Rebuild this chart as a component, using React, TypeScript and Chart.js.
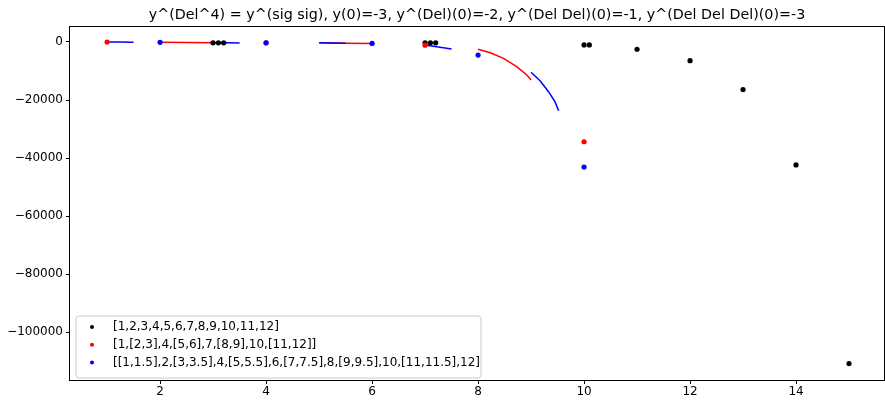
import React, { useEffect, useRef } from "react";
import { Chart, registerables } from "chart.js";

Chart.register(...registerables);

const TITLE = "y^(Del^4) = y^(sig sig), y(0)=-3, y^(Del)(0)=-2, y^(Del Del)(0)=-1, y^(Del Del Del)(0)=-3";

const LEGEND_LABELS = [
  "[1,2,3,4,5,6,7,8,9,10,11,12]",
  "[1,[2,3],4,[5,6],7,[8,9],10,[11,12]]",
  "[[1,1.5],2,[3,3.5],4,[5,5.5],6,[7,7.5],8,[9,9.5],10,[11,11.5],12]",
];

const xTicks = [2, 4, 6, 8, 10, 12, 14];
const yTicks = [0, -20000, -40000, -60000, -80000, -100000];

// black points
const blackX = [3, 3.1, 3.2, 7, 7.1, 7.2, 10, 10.1, 11, 12, 13, 14, 15];
const blackY = [-300, -300, -300, -300, -300, -300, -1000, -1000, -2500, -6450, -16400, -42400, -110900];

// red points
const redX = [1, 4, 7, 10];
const redY = [0, -300, -1100, -34400];

// blue points
const blueX = [2, 4, 6, 8, 10];
const blueY = [-100, -300, -500, -4500, -43100];

// red curves (continuous intervals)
const redSeg1X = [2, 2.5, 3];
const redSeg1Y = [-100, -150, -250];
const redSeg2X = [5, 5.5, 6];
const redSeg2Y = [-300, -400, -500];
const redSeg3X = [8, 8.23, 8.48, 8.73, 8.92, 9];
const redSeg3Y = [-2520, -3690, -5620, -8520, -11380, -13100];

// blue curves
const blueSeg1X = [1, 1.25, 1.5];
const blueSeg1Y = [-20, -40, -60];
const blueSeg2X = [3, 3.25, 3.5];
const blueSeg2Y = [-250, -300, -350];
const blueSeg3X = [5, 5.25, 5.5];
const blueSeg3Y = [-300, -350, -400];
const blueSeg4X = [7, 7.25, 7.5];
const blueSeg4Y = [-1000, -1700, -2400];
const blueSeg5X = [9, 9.17, 9.33, 9.45, 9.52];
const blueSeg5Y = [-10450, -13340, -17130, -20580, -23690];

const pts = (xs: number[], ys: number[]) => xs.map((x, i) => ({ x, y: ys[i] }));

const FONT = "'DejaVu Sans', sans-serif";

const fmt = (v: number) => (v < 0 ? "\u2212" + Math.abs(v) : String(v));

export default function App() {
  const ref = useRef<HTMLCanvasElement | null>(null);

  useEffect(() => {
    document.body.style.margin = "0";
    const canvas = ref.current;
    if (!canvas) return;

    const lineDs = (xs: number[], ys: number[], color: string, order: number) => ({
      data: pts(xs, ys),
      showLine: true,
      borderColor: color,
      backgroundColor: color,
      borderWidth: 1.5,
      pointRadius: 0,
      tension: 0,
      order,
    });
    const dotDs = (xs: number[], ys: number[], color: string, order: number) => ({
      data: pts(xs, ys),
      showLine: false,
      borderColor: color,
      backgroundColor: color,
      borderWidth: 0,
      pointRadius: 2.6,
      order,
    });

    const framePlugin = {
      id: "frameAndExtras",
      afterDraw(chart: any) {
        const { ctx, chartArea } = chart;
        const { left, right, top, bottom } = chartArea;
        ctx.save();
        ctx.strokeStyle = "#000";
        ctx.lineWidth = 1;
        ctx.strokeRect(Math.round(left) - 0.5, Math.round(top) - 0.5, Math.round(right - left) + 1, Math.round(bottom - top) + 1);

        // title
        ctx.fillStyle = "#000";
        ctx.font = `14.3px ${FONT}`;
        ctx.textAlign = "center";
        ctx.textBaseline = "alphabetic";
        ctx.fillText(TITLE, (left + right) / 2, top - 8);

        // legend
        const bx = left + 6, by = bottom - 64, bw = 405, bh = 62;
        ctx.beginPath();
        const r = 3;
        ctx.moveTo(bx + r, by);
        ctx.lineTo(bx + bw - r, by);
        ctx.quadraticCurveTo(bx + bw, by, bx + bw, by + r);
        ctx.lineTo(bx + bw, by + bh - r);
        ctx.quadraticCurveTo(bx + bw, by + bh, bx + bw - r, by + bh);
        ctx.lineTo(bx + r, by + bh);
        ctx.quadraticCurveTo(bx, by + bh, bx, by + bh - r);
        ctx.lineTo(bx, by + r);
        ctx.quadraticCurveTo(bx, by, bx + r, by);
        ctx.closePath();
        ctx.fillStyle = "rgba(255,255,255,0.8)";
        ctx.fill();
        ctx.strokeStyle = "#cccccc";
        ctx.lineWidth = 1;
        ctx.stroke();

        const colors = ["#000000", "#ff0000", "#0000ff"];
        ctx.font = `12px ${FONT}`;
        ctx.textAlign = "left";
        ctx.textBaseline = "middle";
        LEGEND_LABELS.forEach((lab, i) => {
          const yy = by + 11 + i * 17.7;
          ctx.fillStyle = colors[i];
          ctx.beginPath();
          ctx.arc(bx + 16, yy, 2, 0, Math.PI * 2);
          ctx.fill();
          ctx.fillStyle = "#000";
          ctx.fillText(lab, bx + 37, yy);
        });
        ctx.restore();
      },
    };

    const chart = new Chart(canvas, {
      type: "scatter",
      data: {
        datasets: [
          dotDs(blackX, blackY, "#000000", 3),
          dotDs(redX, redY, "#ff0000", 2),
          dotDs(blueX, blueY, "#0000ff", 1),
          lineDs(redSeg1X, redSeg1Y, "#ff0000", 10),
          lineDs(redSeg2X, redSeg2Y, "#ff0000", 10),
          lineDs(redSeg3X, redSeg3Y, "#ff0000", 10),
          lineDs(blueSeg1X, blueSeg1Y, "#0000ff", 9),
          lineDs(blueSeg2X, blueSeg2Y, "#0000ff", 9),
          lineDs(blueSeg3X, blueSeg3Y, "#0000ff", 9),
          lineDs(blueSeg4X, blueSeg4Y, "#0000ff", 9),
          lineDs(blueSeg5X, blueSeg5Y, "#0000ff", 9),
        ] as any,
      },
      options: {
        animation: false,
        responsive: false,
        maintainAspectRatio: false,
        layout: { autoPadding: false, padding: { top: 27, right: 1, left: 0, bottom: 0 } },
        plugins: {
          legend: { display: false },
          title: { display: false },
          tooltip: { enabled: false },
        },
        scales: {
          x: {
            type: "linear",
            min: 0.3,
            max: 15.66,
            afterBuildTicks: (s: any) => {
              s.ticks = xTicks.map((v) => ({ value: v }));
            },
            afterFit: (s: any) => {
              s.height = 20;
            },
            grid: { drawOnChartArea: false, drawTicks: true, tickLength: 4, tickColor: "#000" },
            border: { display: false },
            ticks: {
              color: "#000",
              font: { family: FONT, size: 12 },
              padding: 1,
              maxRotation: 0,
              autoSkip: false,
              callback: (v: any) => fmt(Number(v)),
            },
          },
          y: {
            type: "linear",
            min: -116550,
            max: 5172,
            afterBuildTicks: (s: any) => {
              s.ticks = yTicks.map((v) => ({ value: v }));
            },
            afterFit: (s: any) => {
              s.width = 70;
            },
            grid: { drawOnChartArea: false, drawTicks: true, tickLength: 4, tickColor: "#000" },
            border: { display: false },
            ticks: {
              color: "#000",
              font: { family: FONT, size: 12 },
              padding: 3,
              autoSkip: false,
              callback: (v: any) => fmt(Number(v)),
            },
          },
        },
      } as any,
      plugins: [framePlugin],
    });
    return () => chart.destroy();
  }, []);

  return (
    <div style={{ position: "absolute", left: 0, top: 0, width: 885, height: 400, background: "#fff" }}>
      <canvas ref={ref} width={885} height={400} style={{ width: 885, height: 400 }} />
    </div>
  );
}
